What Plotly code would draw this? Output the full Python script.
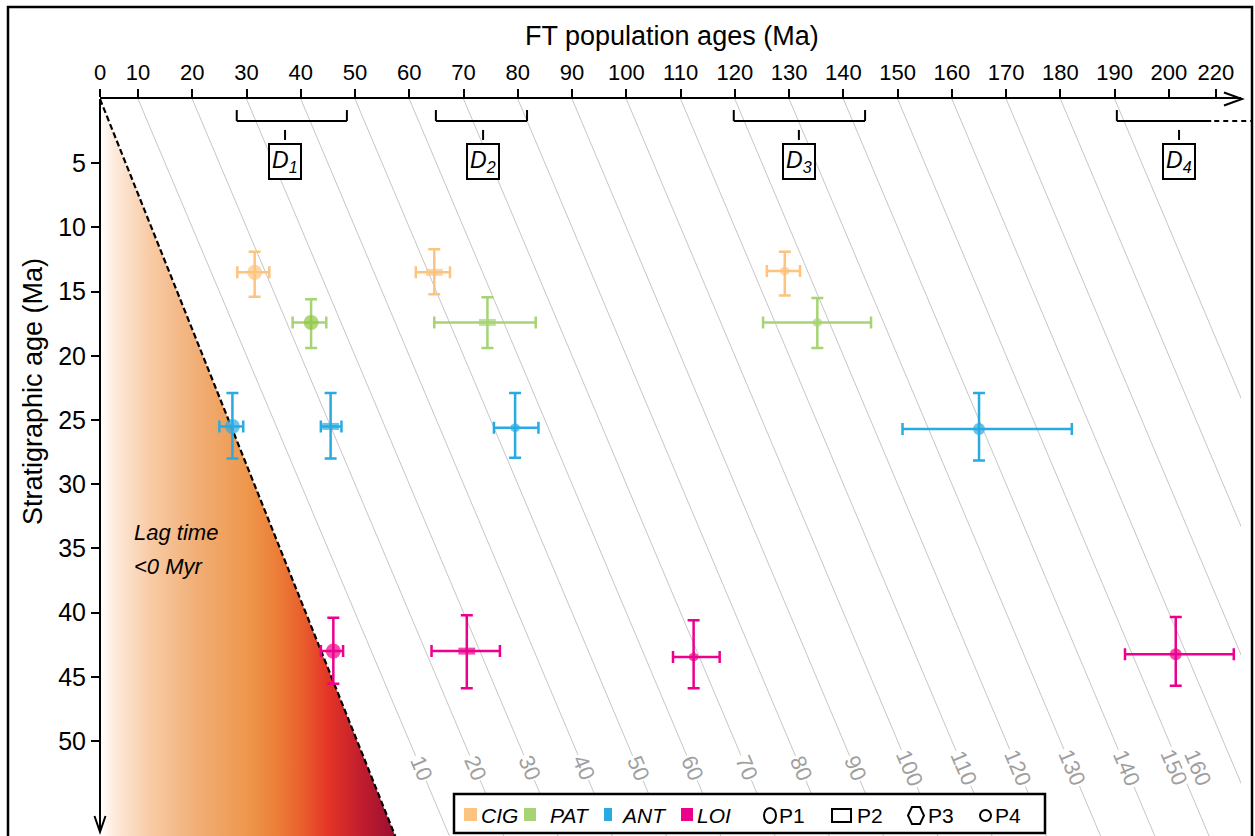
import numpy as np
import plotly.graph_objects as go

# ---------------- data ----------------
FT_TICKS = [0, 10, 20, 30, 40, 50, 60, 70, 80, 90, 100, 110, 120, 130, 140, 150,
            160, 170, 180, 190, 200, 220]
Y_TICKS = [5, 10, 15, 20, 25, 30, 35, 40, 45, 50]
LAG_LINES = [10, 20, 30, 40, 50, 60, 70, 80, 90, 100, 110, 120, 130, 140, 150,
             160, 170, 180, 190]
LAG_LABELS = [10, 20, 30, 40, 50, 60, 70, 80, 90, 100, 110, 120, 130, 140, 150, 160]

SERIES = ["CIG", "PAT", "ANT", "LOI"]
POPULATIONS = ["P1", "P2", "P3", "P4"]

CIG_POP = ["P1", "P2", "P3"]
CIG_FT = [31.5, 64.6, 129.2]
CIG_FT_MINUS = [3.2, 3.4, 3.3]
CIG_FT_PLUS = [2.7, 2.9, 2.8]
CIG_STRAT = [13.5, 13.5, 13.4]
CIG_STRAT_MINUS = [1.6, 1.8, 1.5]
CIG_STRAT_PLUS = [1.9, 1.7, 1.9]

PAT_POP = ["P1", "P2", "P3"]
PAT_FT = [41.9, 74.4, 135.2]
PAT_FT_MINUS = [3.4, 9.8, 10.0]
PAT_FT_PLUS = [2.8, 8.9, 9.9]
PAT_STRAT = [17.4, 17.4, 17.4]
PAT_STRAT_MINUS = [1.8, 1.95, 1.9]
PAT_STRAT_PLUS = [2.0, 2.0, 2.0]

ANT_POP = ["P1", "P2", "P3", "P4"]
ANT_FT = [27.4, 45.5, 79.5, 165.0]
ANT_FT_MINUS = [2.4, 1.8, 3.9, 14.1]
ANT_FT_PLUS = [2.0, 2.0, 4.3, 17.1]
ANT_STRAT = [25.5, 25.5, 25.6, 25.7]
ANT_STRAT_MINUS = [2.6, 2.6, 2.7, 2.8]
ANT_STRAT_PLUS = [2.5, 2.5, 2.35, 2.45]

LOI_POP = ["P1", "P2", "P3", "P4"]
LOI_FT = [46.0, 70.6, 112.4, 202.9]
LOI_FT_MINUS = [2.3, 6.5, 3.8, 11.0]
LOI_FT_PLUS = [1.8, 6.1, 4.8, 24.7]
LOI_STRAT = [43.0, 43.0, 43.45, 43.25]
LOI_STRAT_MINUS = [2.6, 2.8, 2.85, 2.9]
LOI_STRAT_PLUS = [2.55, 2.9, 2.45, 2.45]

D_LABELS = ["1", "2", "3", "4"]
D_START = [28.2, 64.9, 119.8, 190.4]
D_END = [48.5, 81.7, 144.0, 218.0]
D_CENTER = [37.1, 73.6, 131.8, 204.3]

Y_MAX = 57.4

# ---------------- styling ----------------
COLORS = {"CIG": "#FCC47E", "PAT": "#A6D475", "ANT": "#29ABE2", "LOI": "#EC008C"}
P1_FILL = {"CIG": "#FCC47E", "PAT": "#8DC63F", "ANT": "#29ABE2", "LOI": "#EC008C"}
FONT = "Arial, Liberation Sans, Helvetica, sans-serif"

W, H = 1255, 836
ML, MR, MT, MB = 100, 14, 99, 0
PW, PH = W - ML - MR, H - MT - MB


def ax(ma):
    """Broken FT axis: 0-10 and 200-220 segments are compressed."""
    ma = np.asarray(ma, dtype=float)
    return np.where(ma <= 10, ma * 0.7003,
                    np.where(ma <= 200, 7.003 + (ma - 10),
                             197.003 + (ma - 200) * 0.4331))


X_RANGE = [0, PW / 5.426]


def px(x):
    return (x - ML) / PW


def py(y):
    return (H - MB - y) / PH


DATA = {
    "CIG": (CIG_POP, CIG_FT, CIG_FT_MINUS, CIG_FT_PLUS, CIG_STRAT, CIG_STRAT_MINUS, CIG_STRAT_PLUS),
    "PAT": (PAT_POP, PAT_FT, PAT_FT_MINUS, PAT_FT_PLUS, PAT_STRAT, PAT_STRAT_MINUS, PAT_STRAT_PLUS),
    "ANT": (ANT_POP, ANT_FT, ANT_FT_MINUS, ANT_FT_PLUS, ANT_STRAT, ANT_STRAT_MINUS, ANT_STRAT_PLUS),
    "LOI": (LOI_POP, LOI_FT, LOI_FT_MINUS, LOI_FT_PLUS, LOI_STRAT, LOI_STRAT_MINUS, LOI_STRAT_PLUS),
}

SYMBOL = {"P1": "circle", "P2": "line-ew", "P3": "hexagon", "P4": "circle"}
SIZE = {"P1": 15, "P2": 12, "P3": 10, "P4": 12}
LINEW = {"P1": 0, "P2": 7, "P3": 0, "P4": 0}

fig = go.Figure()

# gradient "lag time < 0" triangle
x_end = float(ax(Y_MAX))
fig.add_trace(go.Scatter(
    x=[0, x_end, 0, 0], y=[0, Y_MAX, Y_MAX, 0], mode="lines", fill="toself",
    line=dict(width=0), hoverinfo="skip", showlegend=False,
    fillgradient=dict(type="horizontal", start=0, stop=x_end, colorscale=[
        [0.0, "#FFFFFF"], [0.05, "#FDEADB"], [0.17, "#F8CBA5"], [0.33, "#F1AE75"],
        [0.5, "#EE974C"], [0.6, "#EC7E38"], [0.68, "#E9612E"], [0.77, "#E43626"],
        [0.88, "#C21E2E"], [1.0, "#9B0E31"]]),
))

# lag-time lines
lx, ly = [], []
for L in LAG_LINES:
    x0 = float(ax(L))
    lx += [x0, x0 + Y_MAX, None]
    ly += [0, Y_MAX, None]
fig.add_trace(go.Scatter(x=lx, y=ly, mode="lines", line=dict(color="#C6C6C6", width=1),
                         hoverinfo="skip", showlegend=False))

# zero-lag dashed line
fig.add_trace(go.Scatter(x=[0, x_end], y=[0, Y_MAX], mode="lines",
                         line=dict(color="black", width=2.2, dash="6px,3px"),
                         hoverinfo="skip", showlegend=False))

# data points
for s in SERIES:
    pops, ft, ftm, ftp, st, stm, stp = DATA[s]
    ft = np.array(ft); ftm = np.array(ftm); ftp = np.array(ftp)
    xc = ax(ft)
    ex_plus = ax(ft + ftp) - xc
    ex_minus = xc - ax(ft - ftm)
    col = COLORS[s]
    fills = [P1_FILL[s] if p == "P1" else col for p in pops]
    fig.add_trace(go.Scatter(
        x=xc, y=st, mode="markers", name=s, showlegend=False,
        marker=dict(symbol=[SYMBOL[p] for p in pops], size=[SIZE[p] for p in pops],
                    color=fills, line=dict(color=col, width=[LINEW[p] for p in pops])),
        error_x=dict(type="data", symmetric=False, array=ex_plus, arrayminus=ex_minus,
                     color=col, thickness=2.5, width=6),
        error_y=dict(type="data", symmetric=False, array=stp, arrayminus=stm,
                     color=col, thickness=2.5, width=6),
    ))

shapes = []
annotations = []


def note(x, y, text, size, xref="paper", yref="paper", xanchor="center", yanchor="middle",
         **kw):
    annotations.append(dict(x=x, y=y, xref=xref, yref=yref, text=text, showarrow=False,
                            xanchor=xanchor, yanchor=yanchor,
                            font=dict(family=FONT, size=size, color=kw.pop("color", "black")),
                            **kw))


# D brackets
for i, lab in enumerate(D_LABELS):
    x0, x1, xc = float(ax(D_START[i])), float(ax(D_END[i])), float(ax(D_CENTER[i]))
    shapes.append(dict(type="line", xref="x", yref="y", x0=x0, x1=x1, y0=1.71, y1=1.71,
                       line=dict(color="black", width=2)))
    shapes.append(dict(type="line", xref="x", yref="y", x0=x0, x1=x0, y0=0.86, y1=1.71,
                       line=dict(color="black", width=2)))
    if i < 3:
        shapes.append(dict(type="line", xref="x", yref="y", x0=x1, x1=x1, y0=0.86, y1=1.71,
                           line=dict(color="black", width=2)))
    shapes.append(dict(type="line", xref="x", yref="y", x0=xc, x1=xc, y0=2.41, y1=3.19,
                       line=dict(color="black", width=2)))
    note(xc, 4.87, f"<i>D<sub>{lab}</sub></i>", 23, xref="x", yref="y",
         bgcolor="white", bordercolor="black", borderwidth=2, borderpad=2)
# open-ended continuation of D4
d4x = ML + float(ax(D_END[3])) * PW / X_RANGE[1]
shapes.append(dict(type="line", xref="paper", yref="y", x0=px(d4x + 3), x1=px(1252),
                   y0=1.71, y1=1.71, line=dict(color="black", width=2, dash="5px,4px")))

# lag labels
for L in LAG_LABELS:
    note(float(ax(L + 52.1)), 52.1, str(L), 22, xref="x", yref="y", textangle=67,
         bgcolor="white", borderpad=1, color="#A0A0A0")

# y-axis line and arrows
shapes.append(dict(type="line", xref="paper", yref="paper", x0=0, x1=0, y0=1, y1=py(831),
                   line=dict(color="black", width=2)))
shapes.append(dict(type="path", xref="paper", yref="paper",
                   path=f"M {px(94.5)},{py(816)} L {px(100)},{py(832)} L {px(105.5)},{py(816)}",
                   line=dict(color="black", width=2)))
shapes.append(dict(type="path", xref="paper", yref="paper",
                   path=f"M {px(1224)},{py(92.5)} L {px(1242)},{py(99)} L {px(1224)},{py(105.5)}",
                   line=dict(color="black", width=2)))

# outer frame
shapes.append(dict(type="rect", xref="paper", yref="paper", x0=px(8), x1=px(1252),
                   y0=py(845), y1=py(7), line=dict(color="black", width=2.5)))

# titles / text
note(px(672), py(36), "FT population ages (Ma)", 27)
note(px(33), py(392), "Stratigraphic age (Ma)", 27, textangle=-90)
note(px(132), py(532), "<i>Lag time</i>", 22, xanchor="left")
note(px(132), py(566), "<i>&lt;0 Myr</i>", 22, xanchor="left")

# manual legend
shapes.append(dict(type="rect", xref="paper", yref="paper", layer="above",
                   x0=px(454), x1=px(1045), y0=py(833), y1=py(794),
                   fillcolor="white", line=dict(color="black", width=2.5)))
LEG_SQ = {"CIG": (464, 477, 479), "PAT": (524, 536, 548), "ANT": (604, 612, 619),
          "LOI": (681, 693, 695)}
for s in SERIES:
    a, b, t = LEG_SQ[s]
    shapes.append(dict(type="rect", xref="paper", yref="paper", layer="above",
                       x0=px(a), x1=px(b), y0=py(821), y1=py(808),
                       fillcolor=COLORS[s], line=dict(width=0)))
    note(px(t), py(815), f"<i>{s}</i>", 21, xanchor="left")
lw = dict(color="black", width=2)
shapes.append(dict(type="circle", xref="paper", yref="paper", layer="above",
                   x0=px(764), x1=px(776), y0=py(823), y1=py(808), line=lw))
shapes.append(dict(type="rect", xref="paper", yref="paper", layer="above",
                   x0=px(832), x1=px(851), y0=py(822), y1=py(809), line=lw))
hx = [908, 912, 920, 924, 920, 912]
hy = [815.5, 807, 807, 815.5, 824, 824]
shapes.append(dict(type="path", xref="paper", yref="paper", layer="above",
                   path="M " + " L ".join(f"{px(a)},{py(b)}" for a, b in zip(hx, hy)) + " Z",
                   line=lw))
shapes.append(dict(type="circle", xref="paper", yref="paper", layer="above",
                   x0=px(980), x1=px(991), y0=py(821), y1=py(810), line=lw))
for p, t in zip(POPULATIONS, [777, 855, 926, 993]):
    note(px(t), py(815), p, 21, xanchor="left")

fig.update_layout(
    width=W, height=H, margin=dict(l=ML, r=MR, t=MT, b=MB, pad=0),
    paper_bgcolor="white", plot_bgcolor="white", showlegend=False,
    font=dict(family=FONT, color="black"),
    xaxis=dict(side="top", range=X_RANGE, tickvals=ax(FT_TICKS).tolist(),
               ticktext=[str(t) for t in FT_TICKS], ticks="outside", ticklen=8, tickwidth=2,
               tickcolor="black", showline=True, linewidth=2, linecolor="black",
               showgrid=False, zeroline=False, tickfont=dict(size=22, family=FONT)),
    yaxis=dict(range=[Y_MAX, 0], tickvals=Y_TICKS, ticks="outside", ticklen=8, tickwidth=2,
               tickcolor="black", showline=False, showgrid=False, zeroline=False,
               tickfont=dict(size=25, family=FONT)),
    shapes=shapes, annotations=annotations,
)

fig.write_html("out.html", config={"displayModeBar": False},
               post_script="document.body.style.margin='0';")
